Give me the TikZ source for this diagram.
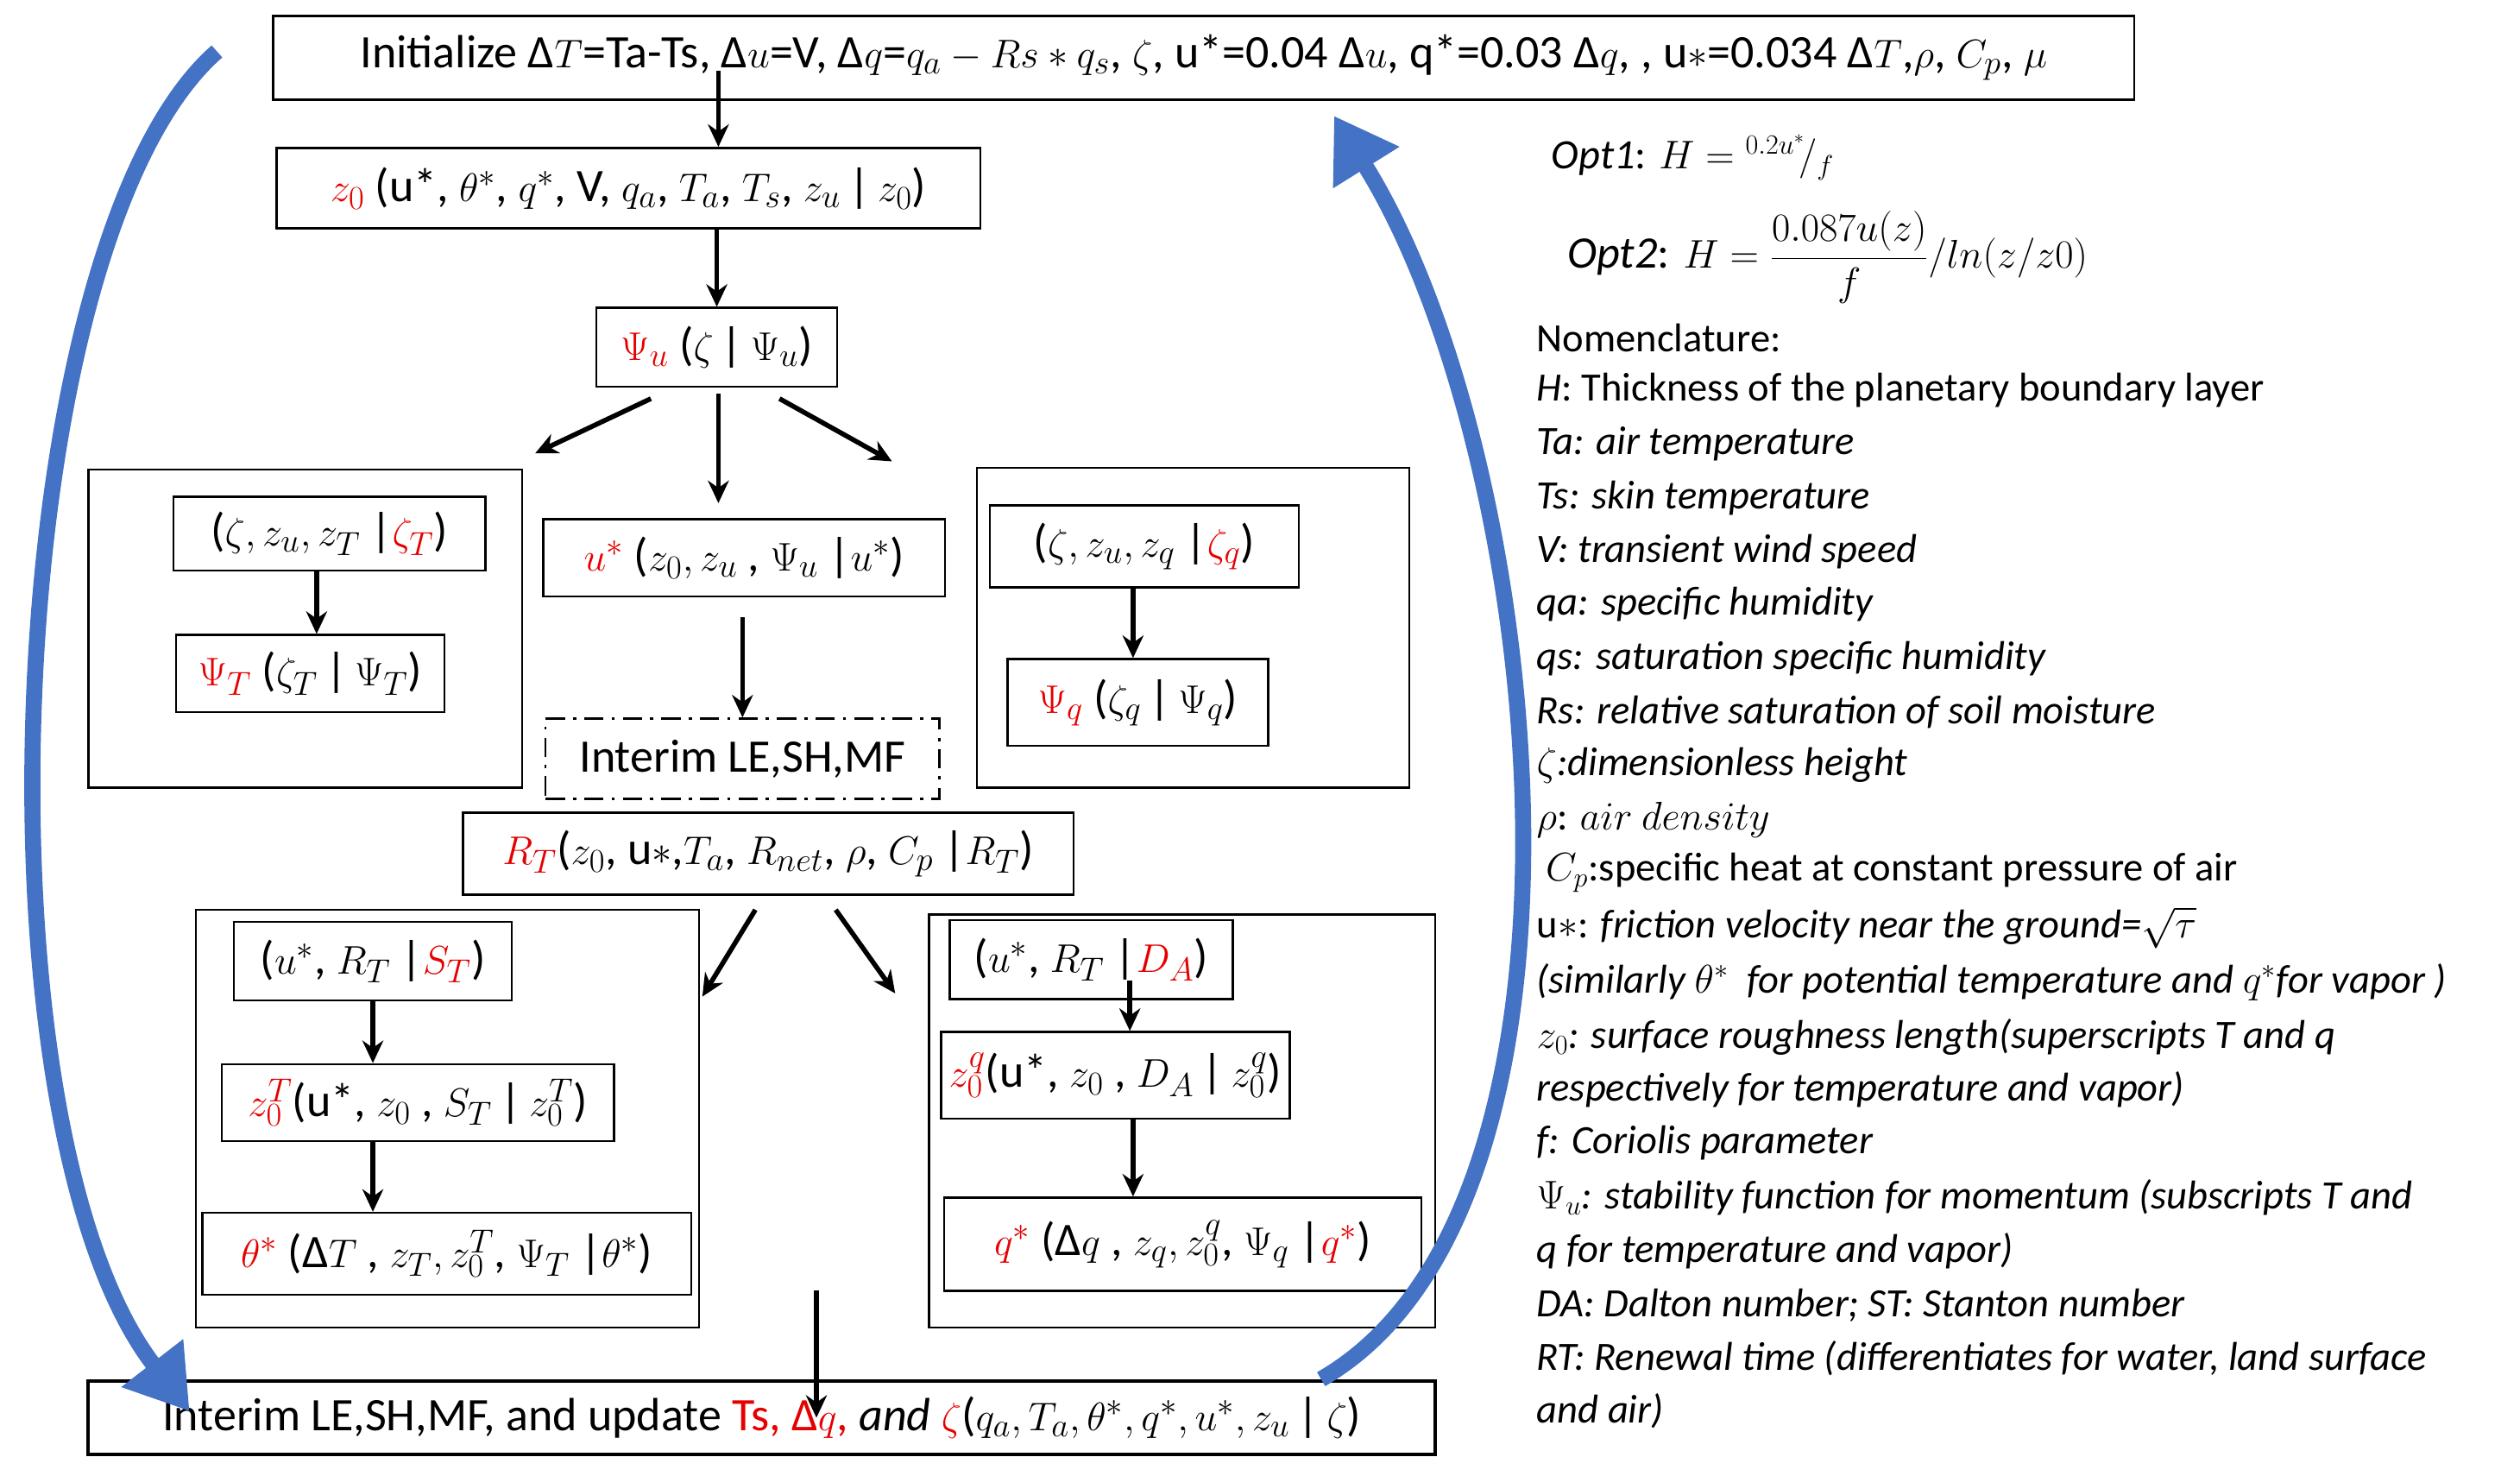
\documentclass[tikz,border=0pt]{standalone}
\usepackage{fontspec}
\setmainfont{Carlito}
\usetikzlibrary{arrows.meta}
\definecolor{myred}{RGB}{230,0,0}
\definecolor{myblue}{RGB}{68,114,196}
\newcommand\R[1]{\textcolor{myred}{#1}}
\begin{document}
\begin{tikzpicture}[x=1pt,y=-1pt,
  bx/.style={draw, line width=1.3pt, inner sep=1pt, font=\fontsize{29}{32}\selectfont},
  ob/.style={draw, line width=1.3pt},
  arr/.style={line width=3pt,-{Stealth[length=14pt,width=13pt]}},
  blu/.style={myblue, line width=10pt,-{Triangle[length=38pt,width=46pt]}},
  nm/.style={anchor=west, inner sep=0pt, font=\fontsize{25}{28}\selectfont}]
\useasboundingbox (0,0) rectangle (1568,918);
% outer group boxes
\draw[ob] (55,292) rectangle (325,490);
\draw[ob] (608,291) rectangle (877,490);
\draw[ob] (122,566) rectangle (435,826);
\draw[ob] (578,569) rectangle (893,826);
% boxes
\node[bx, minimum width=1158pt, minimum height=52pt] (top) at (749,36) {Initialize Δ$T$=Ta-Ts, Δ$u$=V, Δ$q$=$q_a - Rs * q_s$, $\zeta$, u*=0.04 Δ$u$, q*=0.03 Δ$q$, , u$*$=0.034 Δ$T$,$\rho$, $C_p$, $\mu$};
\node[bx, minimum width=438pt, minimum height=50pt] (z0) at (391,117) {\R{$z_0$} (u*, $\theta^*$, $q^*$, V, $q_a$, $T_a$, $T_s$, $z_u$\,|\,$z_0$)};
\node[bx, minimum width=150pt, minimum height=49pt] (psiu) at (446,216) {\R{$\Psi_u$} ($\zeta$\,|\,$\Psi_u$)};
\node[bx, minimum width=194pt, minimum height=46pt] (zT) at (205,332) {($\zeta, z_u, z_T$ |\R{$\zeta_T$})};
\node[bx, minimum width=167pt, minimum height=48pt] (psiT) at (193,419) {\R{$\Psi_T$} ($\zeta_T$\,|\,$\Psi_T$)};
\node[bx, minimum width=250pt, minimum height=48pt] (us) at (463,347) {\R{$u^*$} ($z_0, z_u$ , $\Psi_u$ |$u^*$)};
\node[draw, line width=1.3pt, dash pattern=on 12pt off 5pt on 2pt off 5pt, minimum width=245pt, minimum height=50pt, font=\fontsize{29}{32}\selectfont] (int) at (462,472) {Interim LE,SH,MF};
\node[bx, minimum width=192pt, minimum height=51pt] (zq) at (712,340) {($\zeta, z_u, z_q$ |\R{$\zeta_q$})};
\node[bx, minimum width=162pt, minimum height=54pt] (psiq) at (708,437) {\R{$\Psi_q$} ($\zeta_q$\,|\,$\Psi_q$)};
\node[bx, minimum width=380pt, minimum height=51pt] (RT) at (478,531) {\R{$R_T$}($z_0$, u$*$,$T_a$, $R_{net}$, $\rho$, $C_p$ |$R_T$)};
\node[bx, minimum width=173pt, minimum height=49pt] (ST) at (232,598) {($u^*$, $R_T$ |\R{$S_T$})};
\node[bx, minimum width=244pt, minimum height=48pt] (z0T) at (260,686) {\R{$z_0^T$}(u*, $z_0$ , $S_T$\,|\,$z_0^T$)};
\node[bx, minimum width=304pt, minimum height=51pt] (th) at (278,780) {\R{$\theta^*$} (Δ$T$ , $z_T, z_0^T$, $\Psi_T$ |$\theta^*$)};
\node[bx, minimum width=176pt, minimum height=49pt] (DA) at (679,597) {($u^*$, $R_T$ |\R{$D_A$})};
\node[bx, minimum width=217pt, minimum height=54pt] (z0q) at (694,669) {\R{$z_0^q$}(u*, $z_0$ , $D_A$\,|\,$z_0^q$)};
\node[bx, minimum width=297pt, minimum height=58pt] (qs) at (736,774) {\R{$q^*$} (Δ$q$ , $z_q, z_0^q$, $\Psi_q$ |\R{$q^*$})};
\node[draw, line width=2.2pt, inner sep=1pt, minimum width=838pt, minimum height=46pt, font=\fontsize{29}{32}\selectfont] (bot) at (474,882) {Interim LE,SH,MF, and update \R{Ts, Δ$q$,} \textit{and} \R{$\zeta$}($q_a, T_a, \theta^*, q^*, u^*, z_u$\,|\,$\zeta$)};
% arrows
\coordinate (a1) at (447,44);
\draw[arr] (a1) -- (z0.north -| a1);
\draw[arr] (z0.south -| psiu) -- (psiu.north);
\coordinate (l1) at (405,248); \coordinate (l2) at (333,282);
\coordinate (m1) at (447,245); \coordinate (m2) at (447,313);
\coordinate (r1) at (485,248); \coordinate (r2) at (555,287);
\draw[arr] (l1) -- (l2); \draw[arr] (m1) -- (m2); \draw[arr] (r1) -- (r2);
\draw[arr] (zT.south -| 197,0) -- (psiT.north -| 197,0);
\coordinate (u1) at (462,384);
\draw[arr] (u1) -- (int.north -| u1);
\draw[arr] (zq.south -| 705,0) -- (psiq.north -| 705,0);
\coordinate (t1) at (470,566); \coordinate (t2) at (437,620);
\coordinate (t3) at (520,566); \coordinate (t4) at (557,618);
\draw[arr] (t1) -- (t2); \draw[arr] (t3) -- (t4);
\draw[arr] (ST.south) -- (z0T.north -| ST.south);
\draw[arr] (z0T.south -| ST.south) -- (th.north -| ST.south);
\coordinate (d1) at (703,610);
\draw[arr] (d1) -- (z0q.north -| d1);
\draw[arr] (z0q.south -| 705,0) -- (qs.north -| 705,0);
\coordinate (b1) at (508,803);
\draw[arr] (b1) -- (bot.center -| b1);
% blue loop arrows
\coordinate (L1) at (135,32); \coordinate (L2) at (118,878);
\draw[blu] (L1) .. controls (0,150) and (-20,700) .. (L2);
\coordinate (R1) at (822,858); \coordinate (R2) at (830,72);
\draw[blu] (R1) .. controls (1010,750) and (960,280) .. (R2);
% right side
\node[anchor=west, inner sep=0pt, font=\fontsize{26}{30}\selectfont] (o1) at (965,98) {$\mathit{Opt1}$: $H = {}^{0.2u^*}\!/_{f}$};
\node[anchor=west, inner sep=0pt, font=\fontsize{28}{32}\selectfont] (o2) at (975,160) {$\mathit{Opt2}$: $H = \displaystyle\frac{0.087u(z)}{f}/ln(z/z0)$};
\node[nm] (n0) at (956,210) {Nomenclature:};
\node[nm] (n1) at (956,243) {\textit{H}: Thickness of the planetary boundary layer};
\node[nm] (n2) at (956,276) {\textit{Ta: air temperature}};
\node[nm] (n3) at (956,310) {\textit{Ts: skin temperature}};
\node[nm] (n4) at (956,343) {\textit{V: transient wind speed}};
\node[nm] (n5) at (956,376) {\textit{qa: specific humidity}};
\node[nm] (n6) at (956,410) {\textit{qs: saturation specific humidity}};
\node[nm] (n7) at (956,443) {\textit{Rs: relative saturation of soil moisture}};
\node[nm] (n8) at (956,476) {\textit{$\zeta$:dimensionless height}};
\node[nm] (n9) at (956,510) {$\rho$: $air\ density$};
\node[nm] (n10) at (956,543) {\ $C_p$:specific heat at constant pressure of air};
\node[nm] (n11) at (956,577) {u$*$: \textit{friction velocity near the ground=}$\sqrt{\tau}$};
\node[nm] (n12) at (956,611) {\textit{(similarly $\theta^*$ \ for potential temperature and $q^*$for vapor )}};
\node[nm] (n13) at (956,645) {$z_0$\textit{: surface roughness length(superscripts T and q}};
\node[nm] (n14) at (956,678) {\textit{respectively for temperature and vapor)}};
\node[nm] (n15) at (956,711) {\textit{f: Coriolis parameter}};
\node[nm] (n16) at (956,745) {$\Psi_u$\textit{: stability function for momentum (subscripts T and}};
\node[nm] (n17) at (956,778) {\textit{q for temperature and vapor)}};
\node[nm] (n18) at (956,812) {\textit{DA: Dalton number; ST: Stanton number}};
\node[nm] (n19) at (956,845) {\textit{RT: Renewal time (differentiates for water, land surface}};
\node[nm] (n20) at (956,878) {\textit{and air)}};
\end{tikzpicture}
\end{document}
